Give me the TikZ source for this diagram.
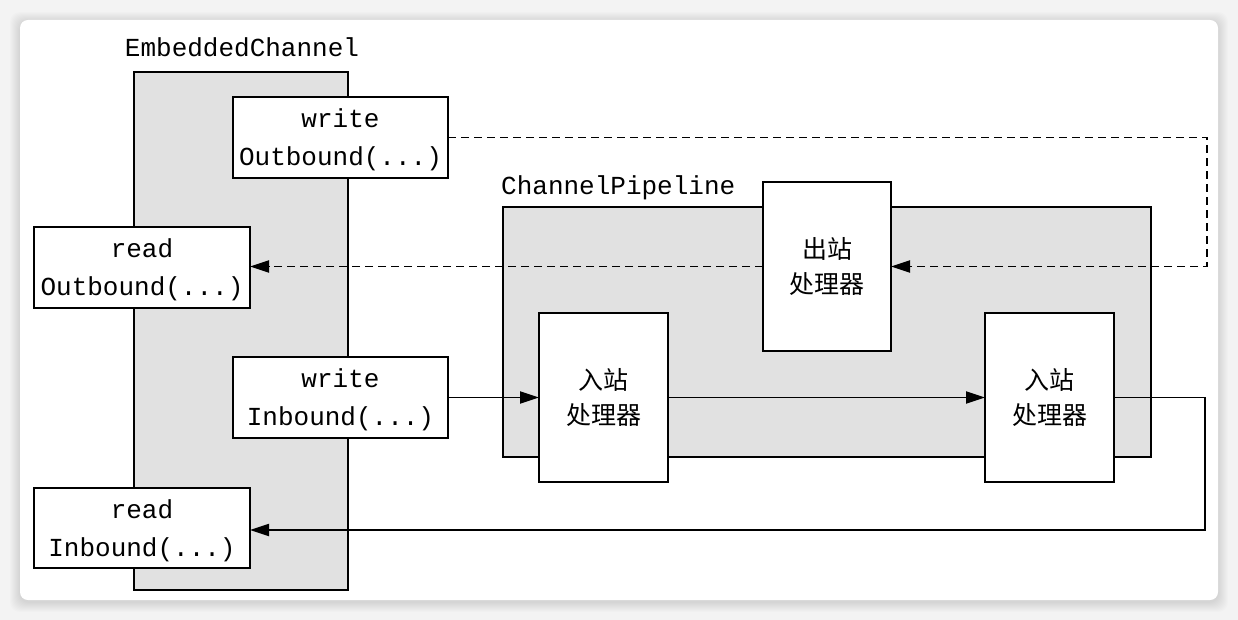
\documentclass[tikz,border=0pt]{standalone}
\usepackage{fontspec}
\setmonofont{Liberation Mono}
\newfontfamily\cjk{Noto Sans CJK SC}
\usetikzlibrary{arrows.meta}
\definecolor{bgout}{HTML}{F3F3F3}
\definecolor{boxgray}{HTML}{E1E1E1}
\newcommand\mystrut{\rule{0pt}{24pt}}
\tikzset{
  graybox/.style={draw=black, line width=1.8pt, fill=boxgray, inner sep=0pt, outer sep=0pt, anchor=north west},
  apibox/.style={draw=black, line width=1.8pt, fill=white, inner sep=0pt, outer sep=0pt, anchor=north west,
     align=center, font=\ttfamily\fontsize{26}{38}\selectfont},
  handler/.style={draw=black, line width=1.8pt, fill=white, inner sep=0pt, outer sep=0pt, anchor=north west,
     align=center, font=\cjk\fontsize{25}{35}\selectfont, minimum width=129pt, minimum height=169pt},
  lbl/.style={font=\ttfamily\fontsize{26}{38}\selectfont, inner sep=0pt},
  flow/.style={line width=1.8pt, -{Triangle[length=19pt,width=12pt]}},
  dflow/.style={flow, dash pattern=on 8pt off 5pt},
}
\begin{document}
\begin{tikzpicture}[x=1pt,y=-1pt]
\useasboundingbox (0,0) rectangle (1238,620);
\fill[bgout] (0,0) rectangle (1238,620);
\foreach \i in {1,...,10}{
  \fill[black, opacity=0.012, rounded corners=10pt] (20-\i,20-\i+2) rectangle (1218+\i,600+\i+2);
}
\fill[white, rounded corners=8pt] (20,20) rectangle (1218,600);

\node[lbl, anchor=base] (eclbl) at (242,57) {EmbeddedChannel};
\node[graybox, minimum width=214pt, minimum height=518pt] (ec) at (134,72) {};
\node[lbl, anchor=base west] (pplbl) at (501,195) {ChannelPipeline};
\node[graybox, minimum width=648pt, minimum height=250pt] (pp) at (503,207) {};

\node[apibox, minimum width=215pt, minimum height=81pt] (wo) at (233,97) {\mystrut write\\Outbound(...)};
\node[apibox, minimum width=216pt, minimum height=81pt] (ro) at (34,227) {\mystrut read\\Outbound(...)};
\node[apibox, minimum width=215pt, minimum height=81pt] (wi) at (233,357) {\mystrut write\\Inbound(...)};
\node[apibox, minimum width=216pt, minimum height=80pt] (ri) at (34,488) {\mystrut read\\Inbound(...)};

\node[handler, minimum width=128pt] (out) at (763,182) {出站\\处理器};
\node[handler] (in1) at (539,313) {入站\\处理器};
\node[handler] (in2) at (985,313) {入站\\处理器};

\coordinate (rx) at (1207,0);
\coordinate (rb) at (1205,530);

\draw[dflow] (wo.east) -- (wo.east -| rx) |- (out.east);
\draw[dflow] (out.west) -- (out.west -| ro.east);
\draw[flow] (wi.east) -- (wi.east -| in1.west);
\draw[flow] (in1.east) -- (in2.west);
\draw[flow] (in2.east) -| (rb) -- (rb -| ri.east);
\end{tikzpicture}
\end{document}
